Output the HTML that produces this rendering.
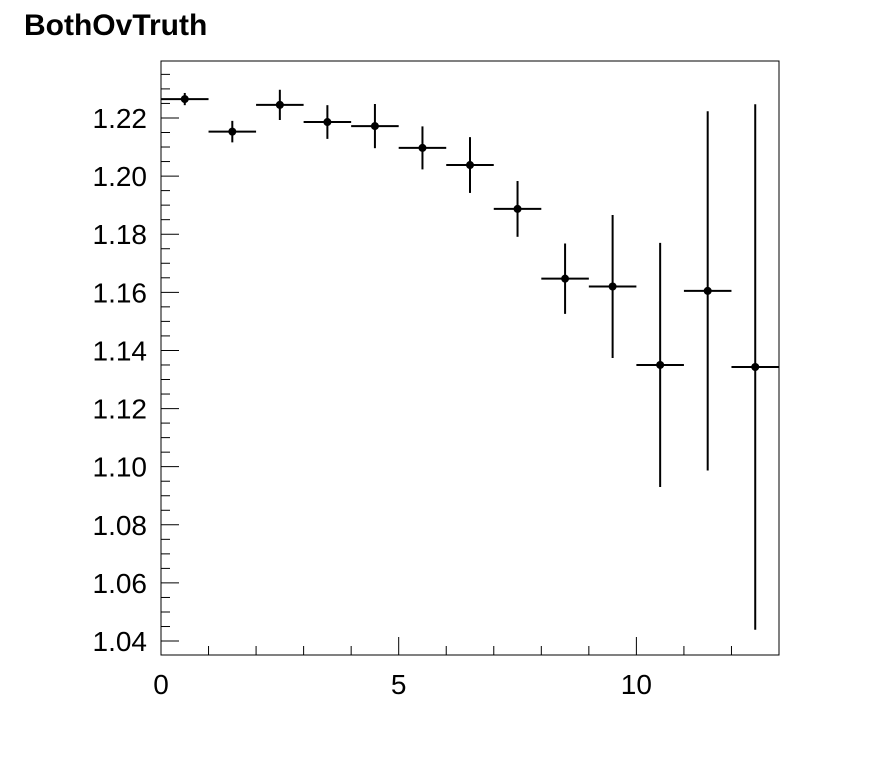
<!DOCTYPE html>
<html><head><meta charset="utf-8"><style>
html,body{margin:0;padding:0;background:#fff;}
svg{display:block;font-family:"Liberation Sans",Arial,sans-serif;}
</style></head><body>
<svg id="chart" width="896" height="772">
<text x="24" y="35" font-size="30" font-weight="bold" fill="#000">BothOvTruth</text>
<rect x="161" y="61" width="618" height="594" fill="none" stroke="#000" stroke-width="1"/>
<g id="axes"></g>
<g id="marks"></g>
</svg>
<script>
const binCenters = [0.5,1.5,2.5,3.5,4.5,5.5,6.5,7.5,8.5,9.5,10.5,11.5,12.5];
const values = [1.2265,1.2153,1.2245,1.2186,1.2172,1.2097,1.2038,1.1887,1.1647,1.1620,1.1350,1.1605,1.1343];
const errors = [0.0021,0.0037,0.0052,0.0058,0.0076,0.0074,0.0096,0.0096,0.0121,0.0246,0.0420,0.0618,0.0904];
const xTickLabels = [0,5,10];
const yTickLabels = ["1.04","1.06","1.08","1.10","1.12","1.14","1.16","1.18","1.20","1.22"];

const X0=161,X1=779,Y0=655,Y1=61;
const xmin=0,xmax=13,ymin=1.0352,ymax=1.2396;
const sx=v=>X0+(v-xmin)/(xmax-xmin)*(X1-X0);
const sy=v=>Y0-(v-ymin)/(ymax-ymin)*(Y0-Y1);
const NS="http://www.w3.org/2000/svg";
const axes=document.getElementById('axes'), marks=document.getElementById('marks');
function mk(tag,attrs,parent){const e=document.createElementNS(NS,tag);for(const k in attrs)e.setAttribute(k,attrs[k]);parent.appendChild(e);return e;}

for(let i=0;i<=13;i++){
  const major=i%5===0, x=sx(i);
  const t=mk('line',{x1:x,x2:x,y1:Y0,y2:Y0-(major?18:9),stroke:'#000','stroke-width':1},axes);
  
  
}
xTickLabels.forEach(v=>{
  const t=mk('text',{x:sx(v),y:Y0+39,'font-size':28,'text-anchor':'middle'},axes);
  t.textContent=v;
  
  
});
for(let v=1.04-0.005;v<=ymax+1e-9;v+=0.005){
  if(v<ymin) continue;
  const k=Math.round(v*1000)%20===0, y=sy(v);
  const t=mk('line',{x1:X0,x2:X0+(k?18:9),y1:y,y2:y,stroke:'#000','stroke-width':1},axes);
  
  
}
yTickLabels.forEach(s=>{
  const t=mk('text',{x:X0-14,y:sy(parseFloat(s))+10,'font-size':28,'text-anchor':'end'},axes);
  t.textContent=s;
  
  
});
binCenters.forEach((c,i)=>{
  const g=mk('g',{},marks);
  
  
  const y=sy(values[i]);
  mk('line',{x1:sx(c-0.5),x2:sx(c+0.5),y1:y,y2:y,stroke:'#000','stroke-width':2},g);
  mk('line',{x1:sx(c),x2:sx(c),y1:sy(values[i]+errors[i]),y2:sy(values[i]-errors[i]),stroke:'#000','stroke-width':2},g);
  mk('circle',{cx:sx(c),cy:y,r:4,fill:'#000'},g);
});
</script>
</body></html>
